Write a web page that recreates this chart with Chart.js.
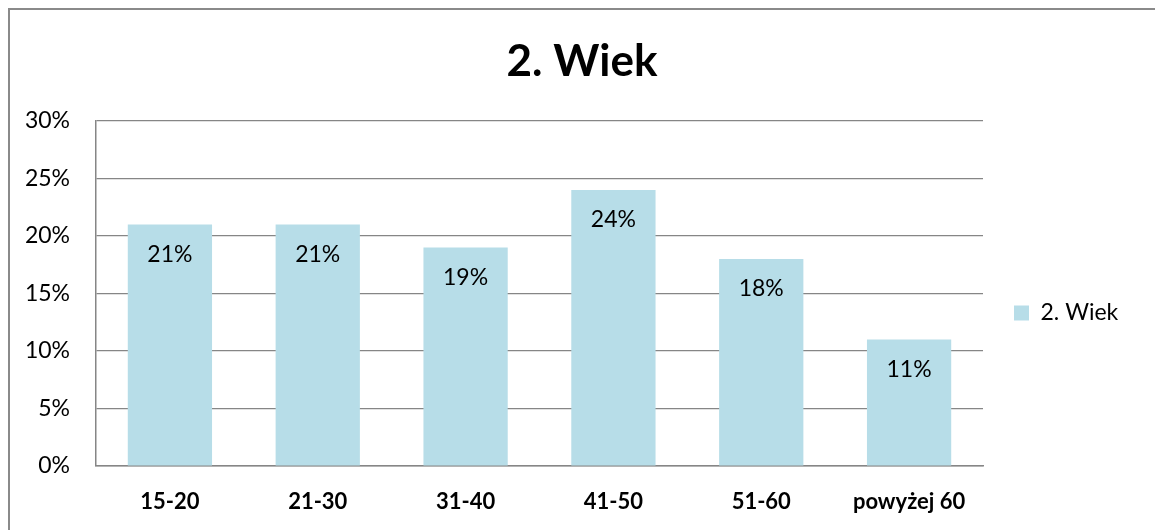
<!DOCTYPE html>
<html>
<head>
<meta charset="utf-8">
<script src="https://cdn.jsdelivr.net/npm/chart.js@4/dist/chart.umd.min.js"></script>
<style>
  html, body { margin: 0; padding: 0; background: #fff; overflow: hidden; }
  #ramka { position: absolute; left: 8px; top: 8px; width: 1200px; height: 600px;
           border-left: 2px solid #8a8a8a; border-top: 2px solid #8a8a8a; }
  canvas { position: absolute; left: 0; top: 0; }
</style>
</head>
<body>
<div id="ramka"></div>
<canvas id="wykres" width="1155" height="530"></canvas>
<script>
// dane z wykresu
const kategorie = ['15-20', '21-30', '31-40', '41-50', '51-60', 'powyżej 60'];
const wartosci = [21, 21, 19, 24, 18, 11];
const nazwaSerii = '2. Wiek';
const tytul = '2. Wiek';

const czcionka = 'Lato, "Noto Sans", sans-serif';

// etykiety danych wewnątrz słupków
const etykietyDanych = {
  id: 'etykietyDanych',
  afterDatasetsDraw(chart) {
    const ctx = chart.ctx;
    const meta = chart.getDatasetMeta(0);
    ctx.save();
    ctx.font = '23px ' + czcionka;
    ctx.fillStyle = '#000';
    ctx.textAlign = 'center';
    ctx.textBaseline = 'middle';
    meta.data.forEach((bar, i) => {
      ctx.fillText(wartosci[i] + '%', bar.x, bar.y + 30);
    });
    ctx.restore();
  }
};

// legenda: stała szerokość i pozycja jak w oryginale
const ukladLegendy = {
  id: 'ukladLegendy',
  beforeUpdate(chart) {
    const l = chart.legend;
    if (l && !l._poprawiona) {
      const fit = l.fit;
      l.fit = function () { fit.call(this); this.width = 164; };
      l._poprawiona = true;
    }
  },
  afterLayout(chart) {
    const l = chart.legend;
    l.left = 1004;
    l.right = 1147;
    l.top = 293;
    l.bottom = 333;
  }
};

new Chart(document.getElementById('wykres'), {
  type: 'bar',
  data: {
    labels: kategorie,
    datasets: [{
      label: nazwaSerii,
      data: wartosci,
      backgroundColor: '#b7dde8',
      borderWidth: 0,
      barPercentage: 0.57,
      categoryPercentage: 1
    }]
  },
  options: {
    responsive: false,
    animation: false,
    devicePixelRatio: 1,
    layout: { padding: { top: 12, left: 17, right: 8, bottom: 0 } },
    plugins: {
      title: {
        display: true,
        text: tytul,
        color: '#000',
        font: { family: czcionka, size: 44, weight: 'bold' },
        padding: { top: 23.6, bottom: 32.6 }
      },
      legend: {
        position: 'right',
        fullSize: false,
        labels: {
          boxWidth: 15,
          boxHeight: 15,
          color: '#000',
          font: { family: czcionka, size: 23 },
          padding: 10
        }
      },
      tooltip: { enabled: false }
    },
    scales: {
      x: {
        grid: { display: false, drawTicks: false },
        border: { display: true, color: '#868686', width: 1.5 },
        ticks: {
          color: '#000',
          font: { family: czcionka, size: 22, weight: 'bold' },
          padding: 23,
          maxRotation: 0
        },
        afterFit(s) { s.height = 64; }
      },
      y: {
        min: 0,
        max: 30,
        grid: { color: '#868686', lineWidth: 1.2, drawTicks: false },
        border: { display: true, color: '#868686', width: 1.5 },
        ticks: {
          stepSize: 5,
          color: '#000',
          font: { family: czcionka, size: 23 },
          padding: 26,
          callback: v => v + '%'
        },
        afterFit(s) { s.width = 79; }
      }
    }
  },
  plugins: [etykietyDanych, ukladLegendy]
});
</script>
</body>
</html>
